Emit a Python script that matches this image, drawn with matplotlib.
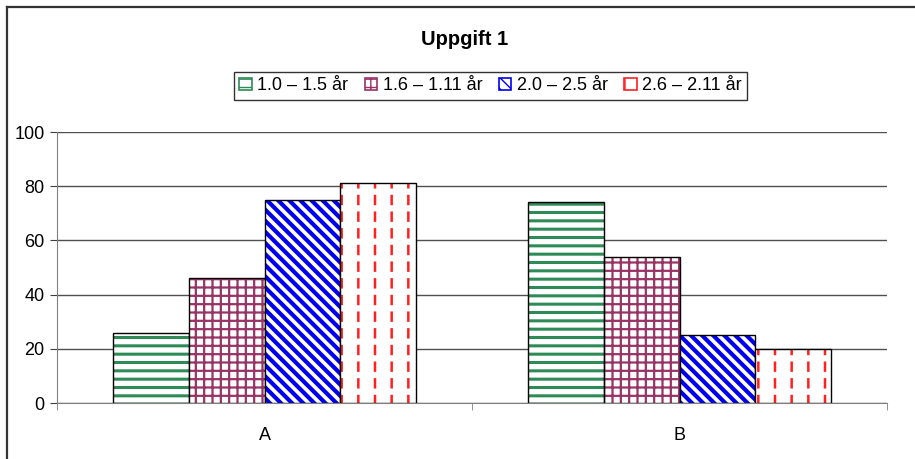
import numpy as np
import matplotlib.pyplot as plt
from matplotlib.patches import Rectangle
from matplotlib.lines import Line2D

plt.rcParams['font.family'] = ['Liberation Sans', 'DejaVu Sans']

# Data
categories = ['A', 'B']
series = ['1.0 – 1.5 år', '1.6 – 1.11 år', '2.0 – 2.5 år', '2.6 – 2.11 år']
values = [
    [26, 74],
    [46, 54],
    [75, 25],
    [81, 20],
]
colors = ['#2e8b57', '#993366', '#0000ee', '#ff2020']
hatches = ['--', '++', '\\\\\\', '|']
hatch_widths = [2.2, 1.6, 3.0, 1.8]

fig = plt.figure(figsize=(9.15, 4.59), dpi=100)
ax = fig.add_axes([0.0623, 0.122, 0.9071, 0.5904])

x = np.arange(len(categories))
width = 0.183
offsets = (np.arange(len(series)) - 1.5) * width

for i in range(len(series)):
    with plt.rc_context({'hatch.linewidth': hatch_widths[i]}):
        ax.bar(x + offsets[i], values[i], width, color='white', edgecolor=colors[i],
               hatch=hatches[i], linewidth=0)
    if i == 3:
        # white horizontal stripes break the red lines into dashes
        with plt.rc_context({'hatch.linewidth': 4.5}):
            ax.bar(x + offsets[i], values[i], width, fill=False, edgecolor='white',
                   hatch='-', linewidth=0)
    ax.bar(x + offsets[i], values[i], width, fill=False, edgecolor='black', linewidth=1)

# legend handles
handles = []
for i in range(len(series)):
    with plt.rc_context({'hatch.linewidth': 1.2}):
        handles.append(Rectangle((0, 0), 1, 1, facecolor='white', edgecolor=colors[i],
                                 hatch=hatches[i], linewidth=1.2))
leg = fig.legend(handles, series, loc='center', bbox_to_anchor=(0.536, 0.813), ncol=4,
                 frameon=True, fancybox=False, fontsize=13, handlelength=0.7, handleheight=0.7,
                 handletextpad=0.3, columnspacing=0.9, borderpad=0.3, borderaxespad=0)
leg.get_frame().set_edgecolor('black')
leg.get_frame().set_linewidth(1)

fig.text(0.508, 0.913, 'Uppgift 1', ha='center', va='center', fontsize=14.5, fontweight='bold')

ax.set_xlim(-0.5, 1.5)
ax.set_ylim(0, 100)
ax.set_yticks(range(0, 101, 20))
ax.set_xticks(x)
ax.set_xticklabels(categories)
ax.set_xticks([-0.5, 0.5, 1.5], minor=True)
ax.tick_params(axis='x', which='major', length=0, labelsize=13, pad=17)
ax.tick_params(axis='x', which='minor', length=5, color='#808080')
ax.tick_params(axis='y', length=5, color='#404040', labelsize=13, pad=4)
ax.yaxis.grid(True, color='#505050', linewidth=1)
ax.set_axisbelow(True)
for side in ['top', 'right']:
    ax.spines[side].set_visible(False)
ax.spines['left'].set_color('#808080')
ax.spines['bottom'].set_color('#808080')

# frame of the original screenshot: only top and left edges visible
fx = 7 / 915
fy = 1 - 6.5 / 459
fig.add_artist(Line2D([fx, fx], [0, fy], transform=fig.transFigure, color='#333333', linewidth=1.6))
fig.add_artist(Line2D([fx, 1], [fy, fy], transform=fig.transFigure, color='#333333', linewidth=1.6))

fig.savefig('out.png', dpi=100)
